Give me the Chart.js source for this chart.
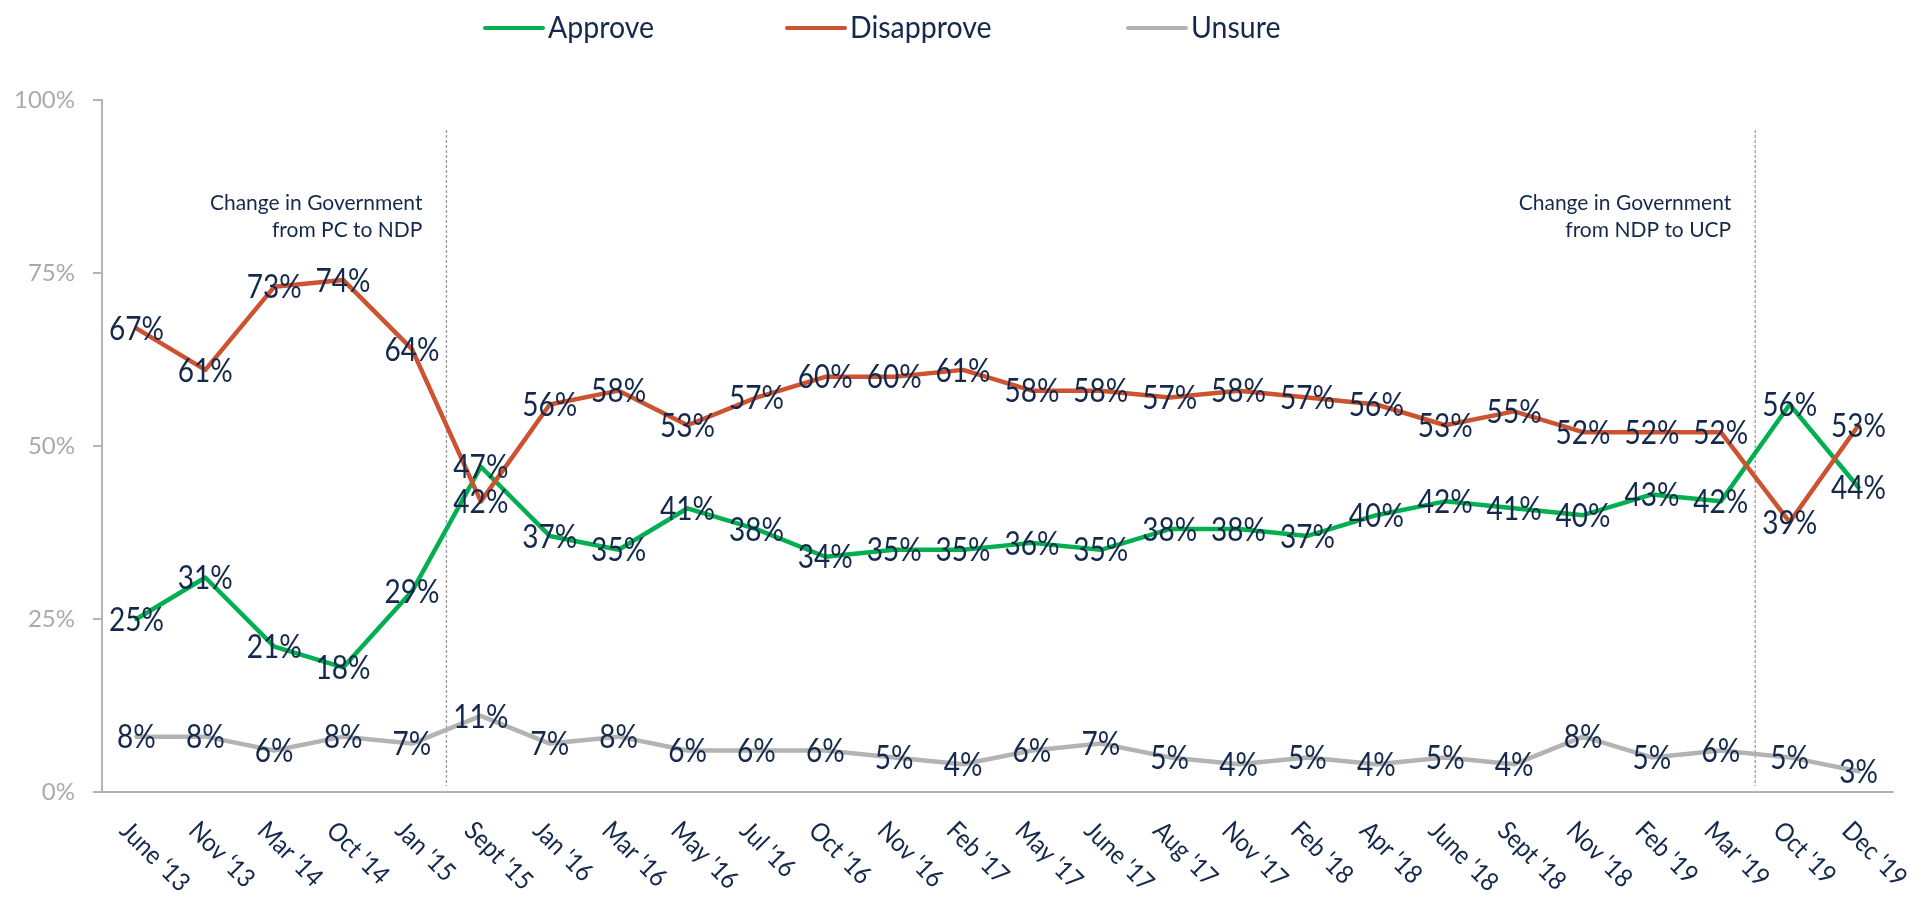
<!DOCTYPE html>
<html>
<head>
<meta charset="utf-8">
<title>Government approval</title>
<script src="https://cdn.jsdelivr.net/npm/chart.js@4.4.1/dist/chart.umd.min.js"></script>
<style>
  html, body { margin: 0; padding: 0; background: #fff; }
  #wrap { width: 1927px; height: 905px; position: relative; }
</style>
</head>
<body>
<div id="wrap"><canvas id="approvalChart"></canvas></div>
<script>
const categories = [
  'June \u201813', 'Nov \u201813', "Mar '14", "Oct '14", "Jan '15", "Sept '15", "Jan '16", "Mar '16",
  "May '16", "Jul '16", "Oct '16", "Nov '16", "Feb '17", "May '17", "June '17", "Aug '17",
  "Nov '17", "Feb '18", "Apr '18", "June '18", "Sept '18", "Nov '18", "Feb '19", "Mar '19",
  "Oct '19", "Dec '19"
];
const approve = [25, 31, 21, 18, 29, 47, 37, 35, 41, 38, 34, 35, 35, 36, 35, 38, 38, 37, 40, 42, 41, 40, 43, 42, 56, 44];
const disapprove = [67, 61, 73, 74, 64, 42, 56, 58, 53, 57, 60, 60, 61, 58, 58, 57, 58, 57, 56, 53, 55, 52, 52, 52, 39, 53];
const unsure = [8, 8, 6, 8, 7, 11, 7, 8, 6, 6, 6, 5, 4, 6, 7, 5, 4, 5, 4, 5, 4, 8, 5, 6, 5, 3];
const yTicks = [0, 25, 50, 75, 100];
// government changes happen between these category indexes
const govtChanges = [
  { after: 4, lines: ['Change in Government', 'from PC to NDP'] },
  { after: 23, lines: ['Change in Government', 'from NDP to UCP'] }
];

const navy = '#14294b';
const axisGray = '#b4b4b4';
const legendX = [485, 787, 1128];

document.addEventListener('DOMContentLoaded', () => {
  const ctx = document.getElementById('approvalChart');

  // value labels sit centred on each point, in a narrow tall face
  const dataLabels = {
    id: 'dataLabels',
    afterDatasetsDraw(chart) {
      const c = chart.ctx;
      const squeeze = 0.85;
      c.save();
      c.font = '33px Lato';
      c.fillStyle = navy;
      c.textAlign = 'center';
      c.textBaseline = 'middle';
      chart.data.datasets.forEach((ds, i) => {
        const meta = chart.getDatasetMeta(i);
        meta.data.forEach((pt, j) => {
          c.save();
          c.translate(pt.x, pt.y + 1);
          c.scale(squeeze, 1);
          c.fillText(ds.data[j] + '%', 0, 0);
          c.restore();
        });
      });
      c.restore();
    }
  };

  const slantedLabels = {
    id: 'slantedLabels',
    afterDraw(chart) {
      const c = chart.ctx;
      const xScale = chart.scales.x;
      c.save();
      c.font = '26px Lato';
      c.fillStyle = navy;
      c.textAlign = 'left';
      c.textBaseline = 'top';
      categories.forEach((label, i) => {
        const x = xScale.getPixelForValue(i);
        c.save();
        c.translate(x - 3, chart.chartArea.bottom + 25);
        c.rotate(Math.PI / 4);
        c.scale(0.9, 1);
        c.fillText(label, 0, 0);
        c.restore();
      });
      c.restore();
    }
  };

  const govtMarkers = {
    id: 'govtMarkers',
    beforeDatasetsDraw(chart) {
      const c = chart.ctx;
      const xScale = chart.scales.x;
      const area = chart.chartArea;
      c.save();
      govtChanges.forEach(g => {
        const x = (xScale.getPixelForValue(g.after) + xScale.getPixelForValue(g.after + 1)) / 2;
        c.strokeStyle = '#9c9c9c';
        c.lineWidth = 1.3;
        c.setLineDash([3, 2]);
        c.beginPath();
        c.moveTo(x, area.top + 30);
        c.lineTo(x, area.bottom - 6);
        c.stroke();

        c.font = '21px Lato';
        c.fillStyle = navy;
        c.textAlign = 'right';
        c.textBaseline = 'middle';
        g.lines.forEach((line, k) => {
          c.fillText(line, x - 24, area.top + 103 + k * 27);
        });
      });
      c.restore();
    }
  };

  const topLegend = {
    id: 'topLegend',
    afterDraw(chart) {
      const c = chart.ctx;
      c.save();
      c.font = '30px Lato';
      c.textBaseline = 'middle';
      c.textAlign = 'left';
      chart.data.datasets.forEach((ds, i) => {
        const x = legendX[i];
        c.strokeStyle = ds.borderColor;
        c.lineWidth = 4;
        c.lineCap = 'round';
        c.beginPath();
        c.moveTo(x, 28);
        c.lineTo(x + 58, 28);
        c.stroke();
        c.fillStyle = navy;
        c.save();
        c.translate(x + 63, 28);
        c.scale(0.95, 1);
        c.fillText(ds.label, 0, 0);
        c.restore();
      });
      c.restore();
    }
  };

  new Chart(ctx, {
    type: 'line',
    data: {
      labels: categories,
      datasets: [
        { label: 'Approve', data: approve, borderColor: '#00b050', order: 3 },
        { label: 'Disapprove', data: disapprove, borderColor: '#cc5230', order: 2 },
        { label: 'Unsure', data: unsure, borderColor: '#b3b3b3', order: 1 }
      ]
    },
    options: {
      responsive: true,
      maintainAspectRatio: false,
      animation: false,
      layout: { padding: { top: 100, right: 34, bottom: 105, left: 0 } },
      elements: {
        line: { borderWidth: 4.5, tension: 0, borderJoinStyle: 'round', borderCapStyle: 'round', fill: false },
        point: { radius: 0, hoverRadius: 0 }
      },
      plugins: {
        legend: { display: false },
        tooltip: { enabled: false }
      },
      scales: {
        x: {
          offset: true,
          grid: { display: false },
          border: { display: true, color: axisGray, width: 2 },
          ticks: { display: false }
        },
        y: {
          min: 0,
          max: 100,
          afterBuildTicks: s => { s.ticks = yTicks.map(v => ({ value: v })); },
          afterFit: s => { s.width = 102; },
          ticks: {
            callback: v => v + '%',
            color: '#aaaaaa',
            font: { family: 'Lato', size: 24 },
            padding: 18
          },
          grid: { display: true, drawOnChartArea: false, drawTicks: true, tickLength: 9, color: axisGray, lineWidth: 2 },
          border: { display: true, color: axisGray, width: 2 }
        }
      }
    },
    plugins: [govtMarkers, dataLabels, slantedLabels, topLegend]
  });
});
</script>
</body>
</html>
